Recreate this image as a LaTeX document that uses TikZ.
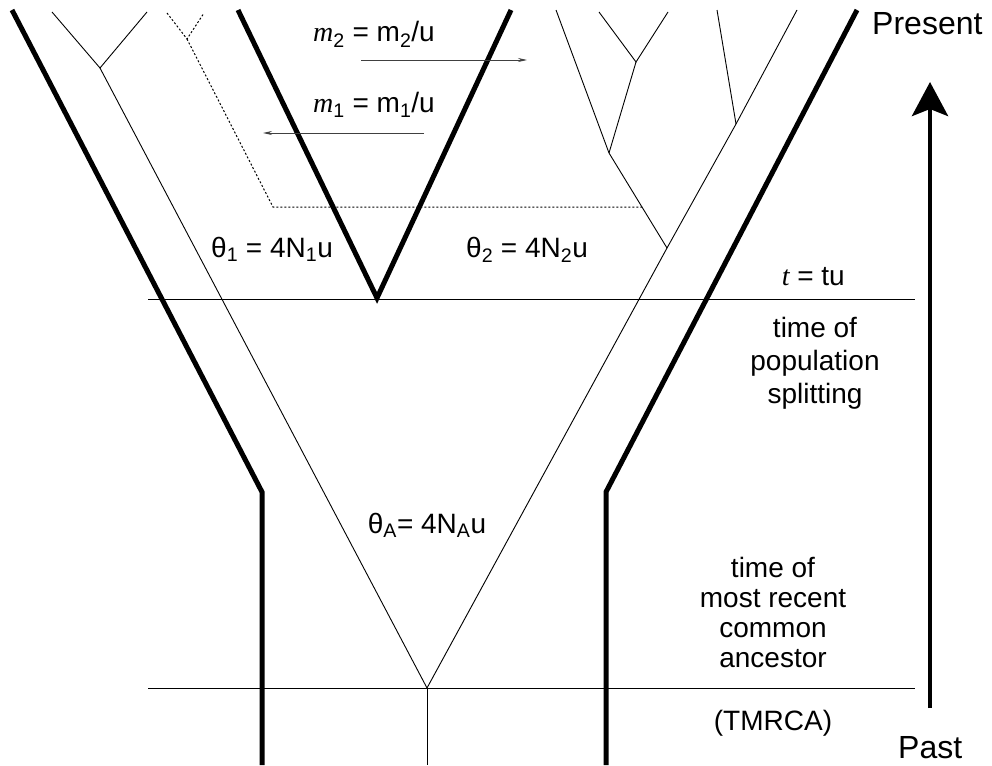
\documentclass[tikz,border=0pt]{standalone}
\usepackage{fontspec}
\setmainfont{Liberation Sans}
\newfontfamily\serifit{Liberation Serif}
\newcommand{\vi}[1]{{\serifit\itshape #1}}
\usetikzlibrary{arrows.meta}

\tikzset{
  wall/.style={line width=5pt,line join=miter},
  branch/.style={line width=0.9pt},
  level/.style={line width=0.9pt},
  ghost/.style={line width=1pt,dash pattern=on 2pt off 2pt},
  migr/.style={line width=0.8pt,black!75,-{Stealth[length=9pt,width=4pt]}},
  lbl/.style={font=\fontsize{28}{30}\selectfont,inner sep=0pt},
  side/.style={font=\fontsize{28}{30}\selectfont,inner sep=0pt,align=center},
  big/.style={font=\fontsize{32}{34}\selectfont,inner sep=0pt}
}

\begin{document}
\begin{tikzpicture}[x=1pt,y=-1pt,>=Stealth]
  \useasboundingbox (0,0) rectangle (992,765);

  \coordinate (L0) at (12,10);
  \coordinate (L1) at (262,492);
  \coordinate (L2) at (262,765);
  \coordinate (R0) at (857,10);
  \coordinate (R1) at (606,492);
  \coordinate (R2) at (606,765);
  \coordinate (V0) at (238,10);
  \coordinate (V1) at (377,298);
  \coordinate (V2) at (511,10);

  \coordinate (A) at (427,688);
  \coordinate (A0) at (427,765);
  \coordinate (P1) at (100,68);
  \coordinate (P2) at (667,248);
  \coordinate (Q1) at (609,153);
  \coordinate (Q2) at (636,62);
  \coordinate (Q3) at (736,124);
  \coordinate (D1) at (187,39);
  \coordinate (D2) at (273,207);
  \coordinate (D3) at (642,207);

  \draw[wall] (L0) -- (L1) -- (L2);
  \draw[wall] (R0) -- (R1) -- (R2);
  \draw[wall] (V0) -- (V1) -- (V2);

  \draw[level] (148,299) -- (915,299);
  \draw[level] (148,688) -- (915,688);

  \draw[branch] (P1) -- (A) -- (P2);
  \draw[branch] (A) -- (A0);
  \draw[branch] (52,12) -- (P1) -- (147,12);
  \draw[branch] (P2) -- (Q1) -- (556,10);
  \draw[branch] (Q1) -- (Q2);
  \draw[branch] (599,12) -- (Q2) -- (668,12);
  \draw[branch] (P2) -- (Q3) -- (797,10);
  \draw[branch] (717,10) -- (Q3);
  \draw[ghost] (167,13) -- (D1) -- (204,13);
  \draw[ghost] (D1) -- (D2) -- (D3);

  \draw[migr] (361,60) -- (527,60);
  \draw[migr] (424,133) -- (263,133);
  \node[lbl,anchor=base] (m2) at (374,42) {\vi{m}\textsubscript{2} = m\textsubscript{2}/u};
  \node[lbl,anchor=base] (m1) at (374,113) {\vi{m}\textsubscript{1} = m\textsubscript{1}/u};

  \node[lbl,anchor=base] (th1) at (272,257) {θ\textsubscript{1} = 4N\textsubscript{1}u};
  \node[lbl,anchor=base] (th2) at (527,257) {θ\textsubscript{2} = 4N\textsubscript{2}u};
  \node[lbl,anchor=base] (thA) at (427,533) {θ\textsubscript{A}= 4N\textsubscript{A}u};

  \node[side,anchor=base east] (t) at (845,285) {\vi{t} = tu};
  \node[side,anchor=base] (split1) at (815,337) {time of};
  \node[side,anchor=base] (split2) at (815,370) {population};
  \node[side,anchor=base] (split3) at (815,403) {splitting};
  \node[side,anchor=base] (mrca1) at (773,577) {time of};
  \node[side,anchor=base] (mrca2) at (773,607) {most recent};
  \node[side,anchor=base] (mrca3) at (773,637) {common};
  \node[side,anchor=base] (mrca4) at (773,667) {ancestor};
  \node[side,anchor=base] (tmrca) at (773,730) {(TMRCA)};

  \node[big,anchor=base west] (present) at (872,35) {Present};
  \node[big,anchor=base west] (past) at (898,758) {Past};
  \draw[line width=4.5pt,-{Stealth[length=34pt,width=36pt,inset=7pt]}] (930,708) -- (930,82);
\end{tikzpicture}
\end{document}
